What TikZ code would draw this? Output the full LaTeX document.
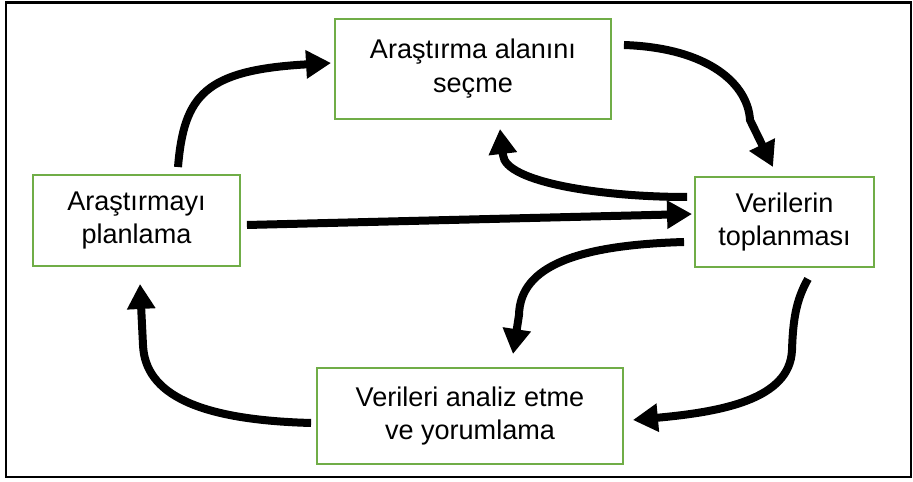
\documentclass[tikz,border=0pt]{standalone}
\usepackage{fontspec}
\setmainfont{Liberation Sans}
\usepackage{tikz}
\usetikzlibrary{arrows.meta}
\definecolor{boxgreen}{rgb}{0.44,0.68,0.28}

\begin{document}
\begin{tikzpicture}[x=0.02cm, y=-0.02cm,
    stage/.style={draw=boxgreen, line width=1.1pt, align=center, inner sep=0pt,
        font=\fontsize{15.4}{19.3}\selectfont},
    flow/.style={line width=0.16cm, -{Triangle[length=0.5cm, width=0.54cm]}}]
    \useasboundingbox (0,0) rectangle (913,482);
    % outer frame
    \draw[line width=0.05cm] (6,2.5) rectangle (911,477);

    % draw boxes
    \node[stage, minimum width=5.52cm, minimum height=2.0cm] (secme) at (473,69) {Araştırma alanını\\seçme};
    \node[stage, minimum width=4.14cm, minimum height=1.82cm] (plan) at (136.5,220.5) {Araştırmayı\\planlama};
    \node[stage, minimum width=3.58cm, minimum height=1.8cm] (topla) at (784.5,222) {Verilerin\\toplanması};
    \node[stage, minimum width=6.12cm, minimum height=1.92cm] (analiz) at (470,416) {Verileri analiz etme\\ve yorumlama};

    % draw arrows
    \draw[flow] ([shift={(41.5,-7)}]plan.north) .. controls (184,95) and (205,70) .. ([shift={(-3,-6)}]secme.west);
    \draw[flow] ([shift={(12,-24)}]secme.east) .. controls (710,48) and (748,85) .. (750,120) -- ([shift={(-11.5,-9)}]topla.north);
    \draw[flow] ([shift={(-7,-25)}]topla.west) .. controls (600,197) and (505,182) .. (503,155) -- ([shift={(27,9)}]secme.south);
    \draw[flow] ([shift={(6,4.5)}]plan.east) -- ([shift={(-2,-8)}]topla.west);
    \draw[flow] ([shift={(-10,20)}]topla.west) .. controls (580,245) and (520,265) .. (519,315) -- ([shift={(43,-13)}]analiz.north);
    \draw[flow] ([shift={(23.5,11)}]topla.south) .. controls (796,300) and (793,320) .. (792,350) .. controls (790,400) and (720,412) .. ([shift={(9,4)}]analiz.east);
    \draw[flow] ([shift={(-5,7)}]analiz.west) .. controls (200,420) and (145,395) .. (143,345) -- ([shift={(3.5,17)}]plan.south);
\end{tikzpicture}
\end{document}
